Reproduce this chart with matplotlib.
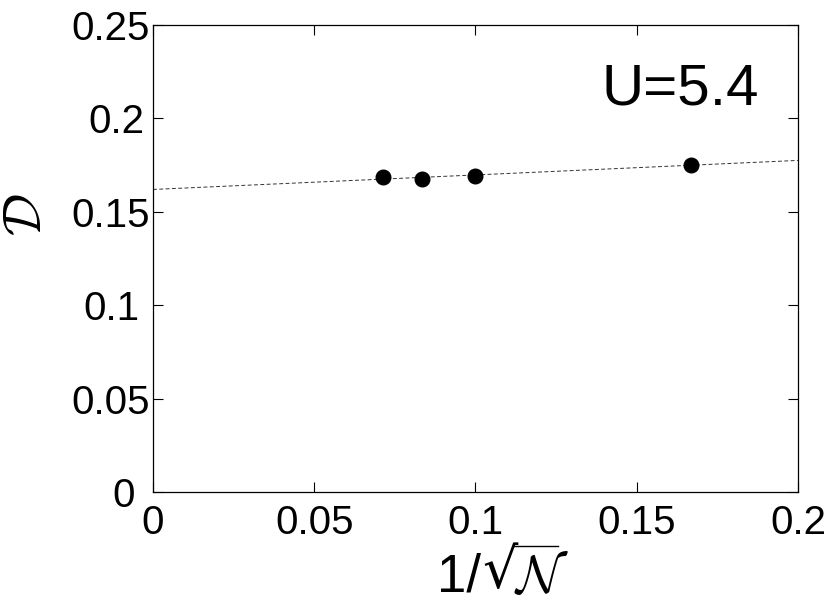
import matplotlib
matplotlib.use("Agg")
import matplotlib.pyplot as plt
import numpy as np
from matplotlib.lines import Line2D
from matplotlib.ticker import FormatStrFormatter
from matplotlib.transforms import ScaledTranslation

plt.rcParams["font.family"] = ["Liberation Sans", "DejaVu Sans"]
plt.rcParams["mathtext.fontset"] = "cm"

# 1/sqrt(N) for N = 196, 144, 100, 36
inv_sqrt_n = [1 / 14, 1 / 12, 1 / 10, 1 / 6]
d_values = [0.1686, 0.1677, 0.1691, 0.1752]

x_ticks = [0, 0.05, 0.1, 0.15, 0.2]
y_ticks = [0, 0.05, 0.1, 0.15, 0.2, 0.25]
# the original's y labels are not flush right; nudge the short ones left (px)
y_label_shift = {"0": -15, "0.1": -11, "0.2": -6}

W, H = 831, 614
fig = plt.figure(figsize=(W / 100, H / 100), dpi=100)
ax = fig.add_axes([0.1841, 0.1987, 0.7762, 0.7606])

# linear extrapolation to N -> infinity
slope, icpt = np.polyfit(inv_sqrt_n, d_values, 1)
xs = np.array([0, 0.2])
ax.plot(xs, icpt + slope * xs, ls=(0, (4, 2.5)), lw=0.7, color="#333333", zorder=1)
ax.plot(inv_sqrt_n, d_values, "o", ms=10.5, color="black", zorder=2)

ax.set_xlim(0, 0.2)
ax.set_ylim(0, 0.25)
ax.set_xticks(x_ticks)
ax.set_yticks(y_ticks)
ax.xaxis.set_major_formatter(FormatStrFormatter("%g"))
ax.yaxis.set_major_formatter(FormatStrFormatter("%g"))
ax.tick_params(direction="in", top=True, right=True, length=7, width=0.8,
               labelsize=29)
ax.tick_params(axis="x", pad=9)
ax.tick_params(axis="y", pad=2)
for sp in ax.spines.values():
    sp.set_linewidth(0.9)

ax.text(0.939, 0.83, "U=5.4", transform=ax.transAxes, ha="right",
        va="baseline", fontsize=42)

fig.text(27 / W, 1 - 215 / H, r"$\mathcal{D}$", rotation=90,
         ha="center", va="center", fontsize=38)

fig.canvas.draw()
r = fig.canvas.get_renderer()
for tick in ax.yaxis.get_major_ticks():
    lab = tick.label1
    dx = y_label_shift.get(lab.get_text(), 0)
    if dx:
        lab.set_transform(lab.get_transform()
                          + ScaledTranslation(dx / 100, 0, fig.dpi_scale_trans))

# x label "1/sqrt(N)" built from pieces so the radical stays short
base_y = 1 - 592 / H
t1 = fig.text(437 / W, base_y, "1/", ha="left", va="baseline", fontsize=38)
fig.canvas.draw()
e1 = t1.get_window_extent(r)
t2 = fig.text((e1.x1 + 1) / W, 1 - 545 / H, "\u221a", ha="left", va="top",
              fontsize=40, family="DejaVu Serif")
fig.canvas.draw()
e2 = t2.get_window_extent(r)
t3 = fig.text((e2.x1 - 3) / W, base_y, r"$\mathcal{N}$", ha="left",
              va="baseline", fontsize=38)
fig.canvas.draw()
e3 = t3.get_window_extent(r)
fig.add_artist(Line2D([(e2.x1 - 4) / W, (e3.x1 - 12) / W],
                      [(e2.y1 - 1) / H, (e2.y1 - 1) / H],
                      lw=1.0, color="black", transform=fig.transFigure))

fig.savefig("out.png", dpi=100)
